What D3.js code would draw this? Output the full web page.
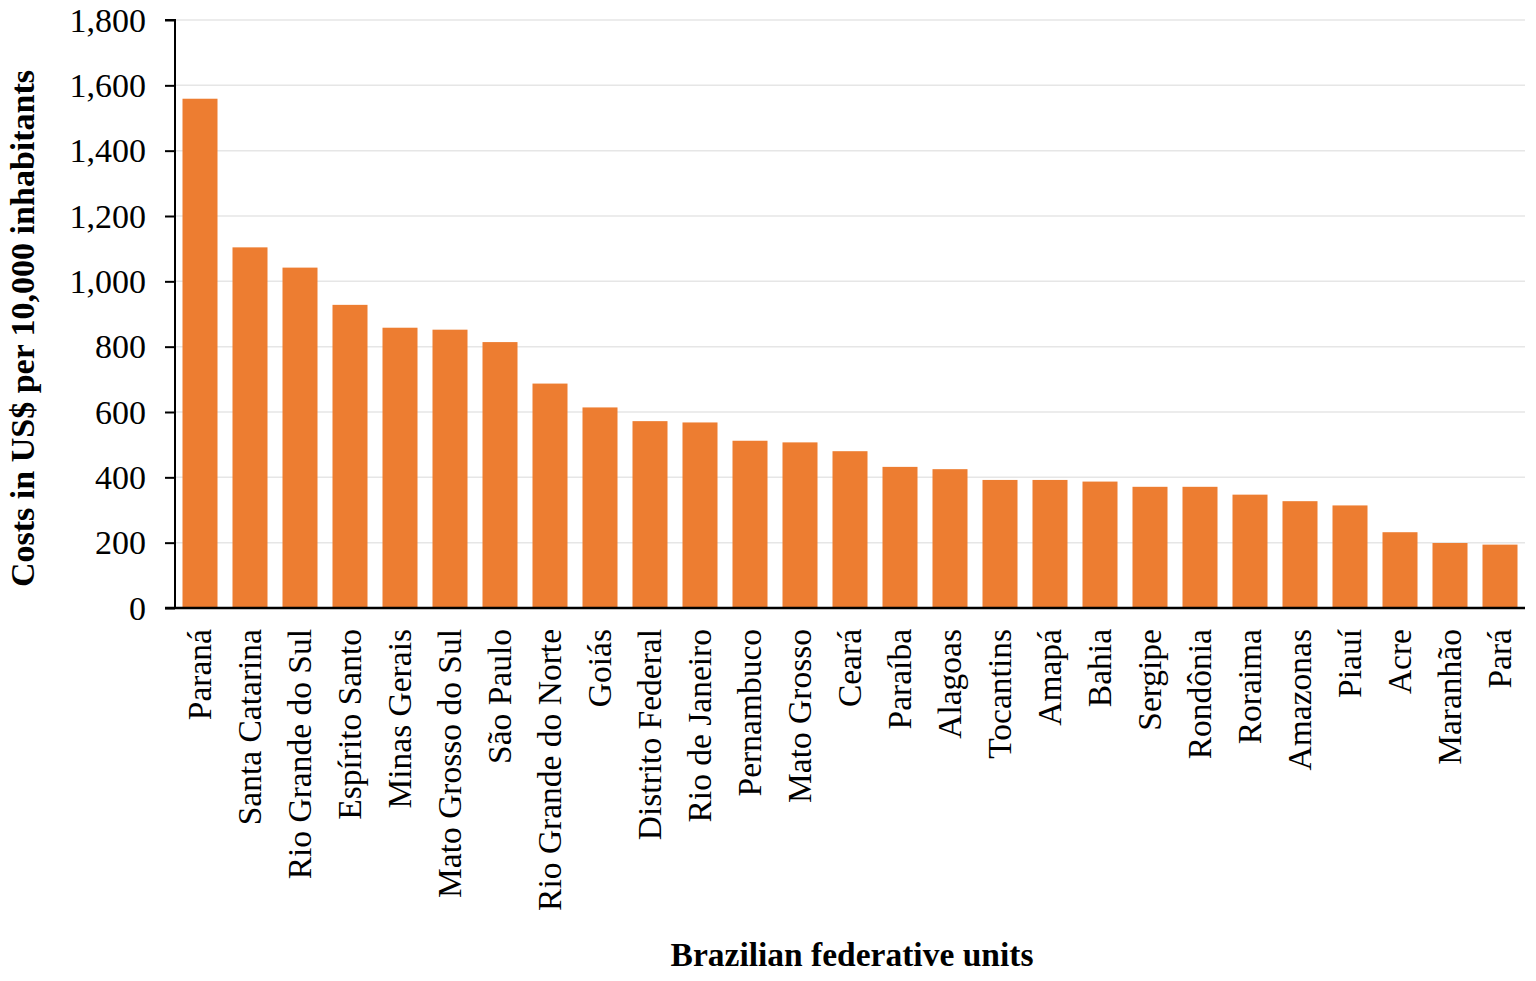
<!DOCTYPE html>
<html><head><meta charset="utf-8">
<script src="https://cdn.jsdelivr.net/npm/d3@7"></script>
<style>html,body{margin:0;padding:0;background:#fff;}svg{display:block;}</style>
</head><body>
<svg id="chart" width="1536" height="981"></svg>
<script>
const categories = ["Paraná","Santa Catarina","Rio Grande do Sul","Espírito Santo","Minas Gerais","Mato Grosso do Sul","São Paulo","Rio Grande do Norte","Goiás","Distrito Federal","Rio de Janeiro","Pernambuco","Mato Grosso","Ceará","Paraíba","Alagoas","Tocantins","Amapá","Bahia","Sergipe","Rondônia","Roraima","Amazonas","Piauí","Acre","Maranhão","Pará"];
const values = [1559,1104,1042,928,858,852,814,687,614,572,568,512,507,480,432,425,392,392,387,371,371,347,327,314,232,199,194];
const yTicks = [0,200,400,600,800,1000,1200,1400,1600,1800];
const yTitle = "Costs in US$ per 10,000 inhabitants";
const xTitle = "Brazilian federative units";

const svg = d3.select("#chart");
const m = {left:175, top:20, right:1525, bottom:608};
const font = "'Liberation Serif','Times New Roman',serif";

const x = d3.scaleBand().domain(categories).range([m.left, m.right]).paddingInner(0.3).paddingOuter(0.15);
const y = d3.scaleLinear().domain([0,1800]).range([m.bottom, m.top]);

// gridlines
svg.append("g").selectAll("line").data(yTicks.filter(d=>d>0)).join("line")
  .attr("x1", m.left).attr("x2", m.right)
  .attr("y1", d=>y(d)).attr("y2", d=>y(d))
  .attr("stroke", "#e6e6e6").attr("stroke-width", 1.5);

// bars
svg.append("g").selectAll("rect").data(values).join("rect")
  .attr("x", (d,i)=>x(categories[i]))
  .attr("width", x.bandwidth())
  .attr("y", d=>y(d))
  .attr("height", d=>y(0)-y(d))
  .attr("fill", "#ED7D31");

// y axis
const yAxis = svg.append("g").attr("transform", `translate(${m.left},0)`)
  .call(d3.axisLeft(y).tickValues(yTicks).tickFormat(d3.format(",")).tickSize(10).tickPadding(19));
yAxis.select(".domain").attr("stroke", "#000").attr("stroke-width", 2).attr("d", `M-10,${y(1800)}H0V${y(0)}`);
yAxis.selectAll(".tick line").attr("stroke", "#000").attr("stroke-width", 2);
yAxis.selectAll(".tick text").attr("font-family", font).attr("font-size", 34).attr("fill", "#000").attr("dy", "0.33em");

// x axis
const xAxis = svg.append("g").attr("transform", `translate(0,${m.bottom})`)
  .call(d3.axisBottom(x).tickSize(0).tickPadding(0));
xAxis.select(".domain").attr("stroke", "#000").attr("stroke-width", 2.5).attr("d", `M${m.left-10},0H${m.right}`);
xAxis.selectAll(".tick text")
  .attr("font-family", font).attr("font-size", 33.5).attr("fill", "#000")
  .attr("text-anchor", "end")
  .attr("transform", "rotate(-90)")
  .attr("x", -21).attr("y", 0).attr("dy", "0.33em");

// titles
svg.append("text")
  .attr("transform", `translate(34,${(72+585)/2}) rotate(-90)`)
  .attr("text-anchor", "middle")
  .attr("font-family", font).attr("font-weight", "bold").attr("font-size", 34)
  .text(yTitle);
svg.append("text")
  .attr("x", 852).attr("y", 966)
  .attr("text-anchor", "middle")
  .attr("font-family", font).attr("font-weight", "bold").attr("font-size", 33.5)
  .text(xTitle);
</script>
</body></html>
